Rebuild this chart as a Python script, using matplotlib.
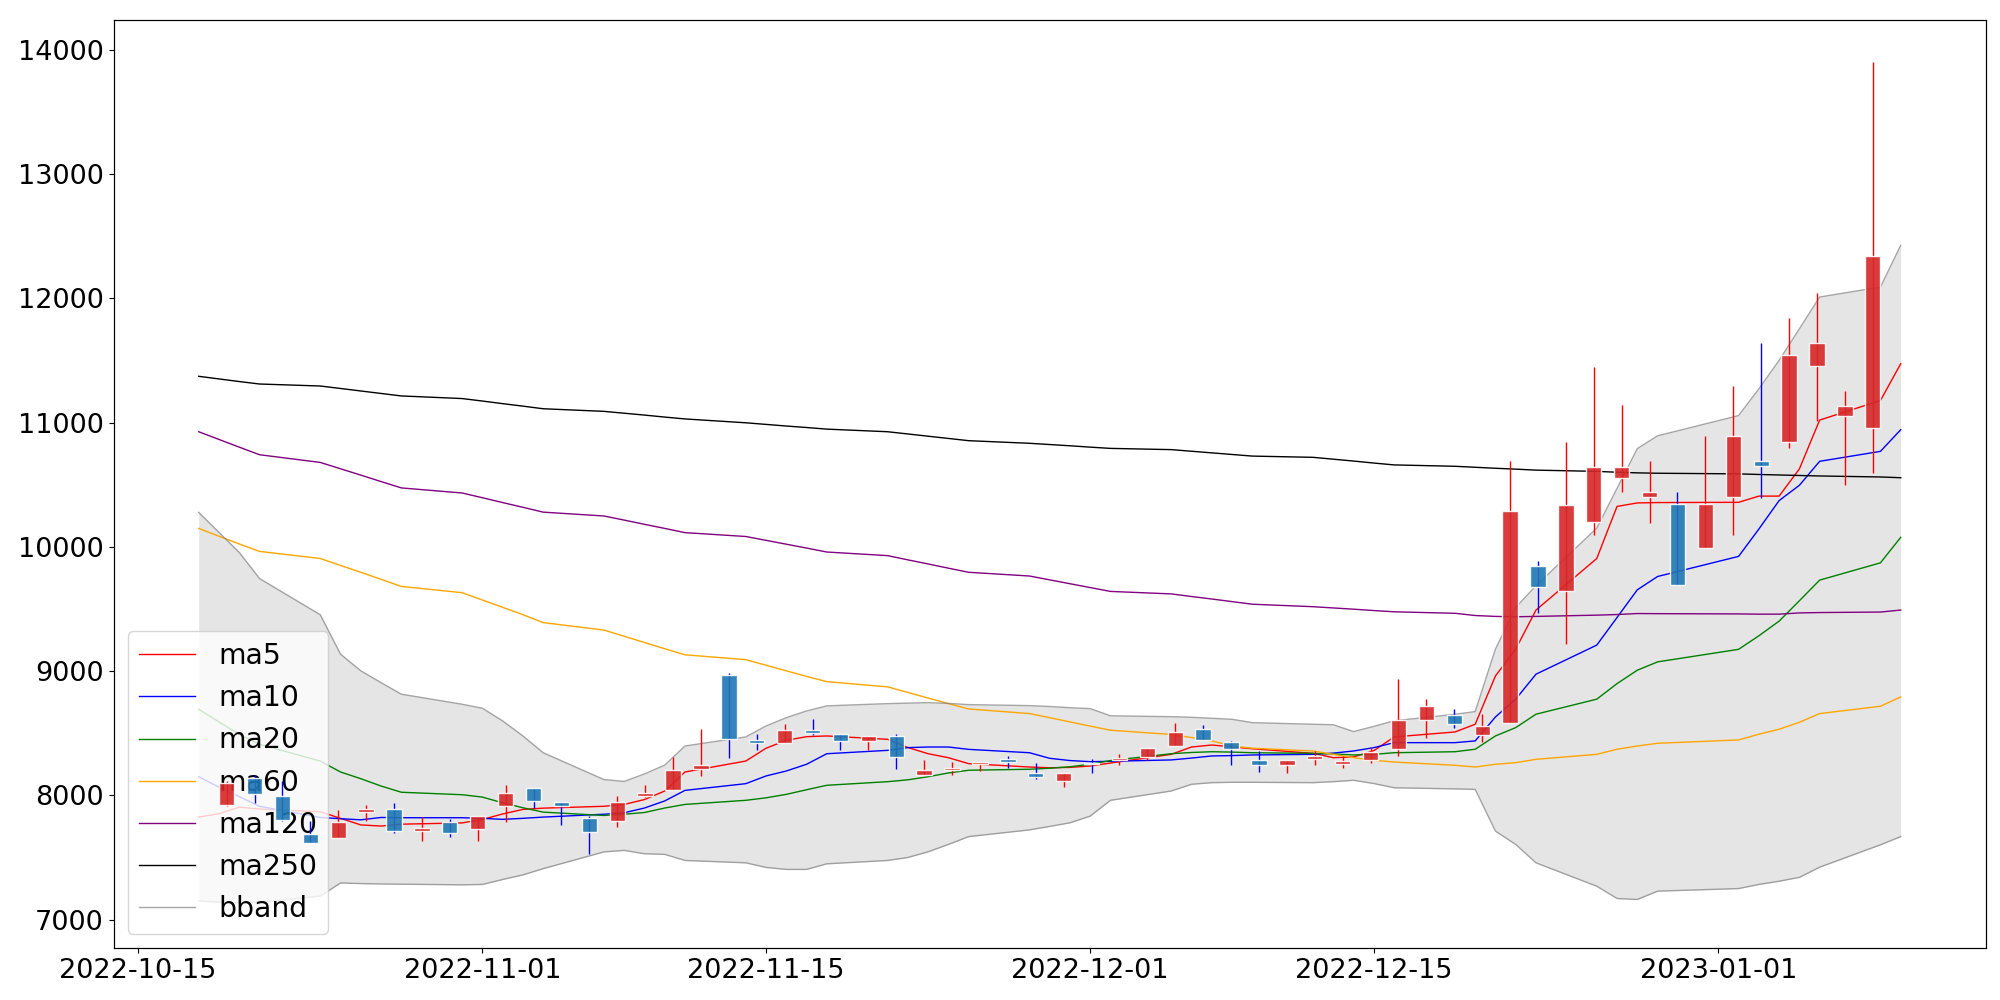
import numpy as np
import pandas as pd
import matplotlib
matplotlib.use("Agg")
import matplotlib.pyplot as plt
import matplotlib.dates as mdates

plt.rcParams['font.size'] = 19.5

# trading days (KRX closed on 2022-12-30)
dates = pd.bdate_range("2022-10-18", "2023-01-10").drop(pd.Timestamp("2022-12-30"))

# candles
open_ = [7922, 8142, 7994, 7686, 7658, 7868, 7890, 7712, 7785, 7728,
         7914, 8061, 7949, 7820, 7793, 7992, 8045, 8209, 8969, 8446,
         8424, 8526, 8497, 8438, 8478, 8164, 8204, 8250, 8290, 8182,
         8115, 8263, 8284, 8309, 8397, 8537, 8429, 8284, 8244, 8290,
         8252, 8284, 8376, 8604, 8647, 8488, 8585, 9848, 9646, 10197,
         10551, 10398, 10342, 9987, 10398, 10688, 10847, 11454, 11051, 10954]
close = [8101, 8008, 7799, 7613, 7785, 7890, 7712, 7736, 7696, 7831,
         8019, 7954, 7911, 7707, 7949, 8021, 8204, 8244, 8451, 8421,
         8526, 8500, 8438, 8478, 8309, 8204, 8222, 8271, 8266, 8147,
         8182, 8250, 8303, 8384, 8513, 8446, 8376, 8244, 8284, 8317,
         8276, 8351, 8607, 8720, 8572, 8558, 10291, 9673, 10339, 10640,
         10640, 10438, 9695, 10342, 10890, 10648, 11540, 11637, 11137, 12338]
high = [8118, 8161, 8115, 7790, 7879, 7922, 7940, 7828, 7812, 7835,
        8081, 8061, 7949, 7830, 7992, 8086, 8311, 8532, 8988, 8497,
        8572, 8612, 8497, 8478, 8492, 8282, 8271, 8271, 8317, 8263,
        8182, 8290, 8330, 8384, 8585, 8566, 8437, 8357, 8284, 8357,
        8317, 8384, 8935, 8774, 8693, 8653, 10694, 9888, 10841, 11450,
        11144, 10690, 10441, 10893, 11293, 11642, 11844, 12045, 11250, 13898]
low = [7915, 7935, 7790, 7613, 7658, 7793, 7694, 7632, 7666, 7632,
       7785, 7900, 7761, 7525, 7742, 7985, 8045, 8156, 8303, 8362,
       8424, 8484, 8362, 8362, 8209, 8164, 8164, 8196, 8222, 8129,
       8069, 8182, 8244, 8284, 8397, 8446, 8244, 8190, 8182, 8244,
       8222, 8263, 8320, 8459, 8540, 8432, 8585, 9471, 9217, 10095,
       10441, 10195, 9695, 9987, 10096, 10395, 10796, 11016, 10498, 10595]

# moving averages
ma5 = [7825, 7852, 7905, 7890, 7868, 7815, 7762, 7753, 7768, 7778,
       7806, 7850, 7887, 7897, 7912, 7927, 7966, 8035, 8188, 8276,
       8379, 8443, 8472, 8478, 8451, 8385, 8335, 8303, 8255, 8228,
       8222, 8225, 8236, 8260, 8330, 8389, 8405, 8390, 8375, 8338,
       8303, 8309, 8360, 8470, 8510, 8572, 8961, 9177, 9491, 9906,
       10325, 10353, 10356, 10358, 10408, 10408, 10627, 11020, 11177, 11473]
ma10 = [8150, 8066, 7990, 7912, 7822, 7812, 7803, 7822, 7820, 7820,
        7815, 7807, 7815, 7825, 7848, 7860, 7898, 7955, 8040, 8094,
        8156, 8196, 8250, 8335, 8362, 8384, 8389, 8389, 8370, 8343,
        8298, 8280, 8271, 8274, 8285, 8300, 8317, 8320, 8325, 8330,
        8340, 8357, 8384, 8424, 8424, 8438, 8631, 8774, 8975, 9209,
        9431, 9654, 9761, 9923, 10143, 10372, 10495, 10688, 10768, 10942]
ma20 = [8693, 8591, 8491, 8411, 8276, 8188, 8134, 8075, 8025, 8005,
        7986, 7940, 7900, 7865, 7838, 7848, 7862, 7898, 7927, 7960,
        7980, 8008, 8045, 8081, 8110, 8125, 8150, 8180, 8202, 8210,
        8218, 8230, 8250, 8280, 8335, 8345, 8351, 8348, 8343, 8338,
        8333, 8325, 8330, 8343, 8351, 8371, 8478, 8545, 8653, 8774,
        8899, 9007, 9074, 9175, 9284, 9402, 9566, 9732, 9871, 10076]
ma60 = [10148, 10085, 10023, 9963, 9906, 9850, 9795, 9738, 9681, 9631,
        9572, 9513, 9454, 9390, 9330, 9280, 9230, 9180, 9131, 9092,
        9047, 9002, 8957, 8915, 8873, 8828, 8783, 8738, 8695, 8658,
        8625, 8591, 8557, 8524, 8490, 8465, 8438, 8397, 8379, 8357,
        8330, 8303, 8282, 8268, 8242, 8228, 8250, 8263, 8290, 8330,
        8371, 8397, 8419, 8446, 8492, 8532, 8588, 8658, 8717, 8792]
ma120 = [10926, 10864, 10802, 10741, 10679, 10628, 10577, 10525, 10474, 10433,
         10395, 10356, 10318, 10279, 10248, 10215, 10181, 10148, 10114, 10083,
         10052, 10021, 9990, 9958, 9929, 9895, 9862, 9828, 9795, 9765,
         9734, 9703, 9672, 9641, 9621, 9600, 9580, 9559, 9538, 9518,
         9508, 9498, 9487, 9477, 9465, 9447, 9440, 9437, 9440, 9450,
         9455, 9463, 9462, 9460, 9458, 9458, 9468, 9471, 9475, 9491]
ma250 = [11372, 11351, 11330, 11310, 11294, 11274, 11254, 11234, 11214, 11193,
         11173, 11152, 11132, 11111, 11090, 11075, 11060, 11044, 11029, 10998,
         10985, 10972, 10960, 10947, 10926, 10908, 10890, 10872, 10854, 10833,
         10823, 10813, 10802, 10792, 10782, 10769, 10756, 10743, 10730, 10720,
         10705, 10690, 10674, 10659, 10648, 10640, 10632, 10625, 10617, 10607,
         10600, 10595, 10592, 10587, 10582, 10578, 10574, 10570, 10562, 10556]
bb_upper = [10277, 10116, 9955, 9745, 9453, 9136, 9002, 8907, 8814, 8733,
            8701, 8599, 8478, 8343, 8127, 8112, 8172, 8243, 8397, 8470,
            8558, 8625, 8679, 8720, 8738, 8742, 8746, 8740, 8730, 8722,
            8715, 8705, 8698, 8640, 8633, 8628, 8620, 8612, 8585, 8572,
            8568, 8513, 8555, 8600, 8652, 8674, 9177, 9512, 9687, 10150,
            10470, 10790, 10893, 11056, 11271, 11500, 11754, 12010, 12090, 12426]
bb_lower = [7150, 7140, 7135, 7140, 7189, 7295, 7290, 7287, 7285, 7280,
            7283, 7323, 7360, 7410, 7545, 7557, 7530, 7525, 7476, 7457,
            7420, 7404, 7404, 7449, 7476, 7500, 7546, 7605, 7668, 7722,
            7750, 7779, 7833, 7960, 8035, 8089, 8102, 8105, 8105, 8102,
            8110, 8121, 8095, 8061, 8052, 8048, 7712, 7605, 7457, 7269,
            7170, 7162, 7229, 7250, 7283, 7309, 7340, 7422, 7602, 7668]

fig, ax = plt.subplots(figsize=(20, 10), dpi=100)
fig.subplots_adjust(left=0.0568, right=0.9929, top=0.9796, bottom=0.0518)

ax.fill_between(dates, bb_lower, bb_upper, color='gray', alpha=0.2, linewidth=0)
ax.plot(dates, ma5, color='red', lw=1, label='ma5')
ax.plot(dates, ma10, color='blue', lw=1, label='ma10')
ax.plot(dates, ma20, color='green', lw=1, label='ma20')
ax.plot(dates, ma60, color='orange', lw=1, label='ma60')
ax.plot(dates, ma120, color='purple', lw=1, label='ma120')
ax.plot(dates, ma250, color='black', lw=1, label='ma250')
ax.plot(dates, bb_upper, color='gray', alpha=0.7, lw=1, label='bband')
ax.plot(dates, bb_lower, color='gray', alpha=0.7, lw=1)

ax.xaxis.set_major_locator(mdates.DayLocator(bymonthday=[1, 15]))
ax.xaxis.set_major_formatter(mdates.DateFormatter('%Y-%m-%d'))
ax.legend(loc='lower left', fontsize=20.3)
ax.set_ylim(6770, 14236)

# candles on a twin x axis (index based), drawn over the legend
ax2 = ax.twiny()
idx = np.arange(len(open_))
o = np.array(open_)
c = np.array(close)
up = c >= o
body_col = np.where(up, '#d62728', '#1f77b4')
wick_col = np.where(up, 'r', 'b')
ax2.vlines(idx, low, high, colors=wick_col, linewidth=1, zorder=1)
ax2.bar(idx, np.abs(c - o), bottom=np.minimum(o, c), width=0.55,
        color=body_col, alpha=0.9, edgecolor='white', linewidth=1, zorder=2)
ax2.set_xlim(-4.05, 63.05)
ax2.set_xticks([])

plt.savefig('out.png')
